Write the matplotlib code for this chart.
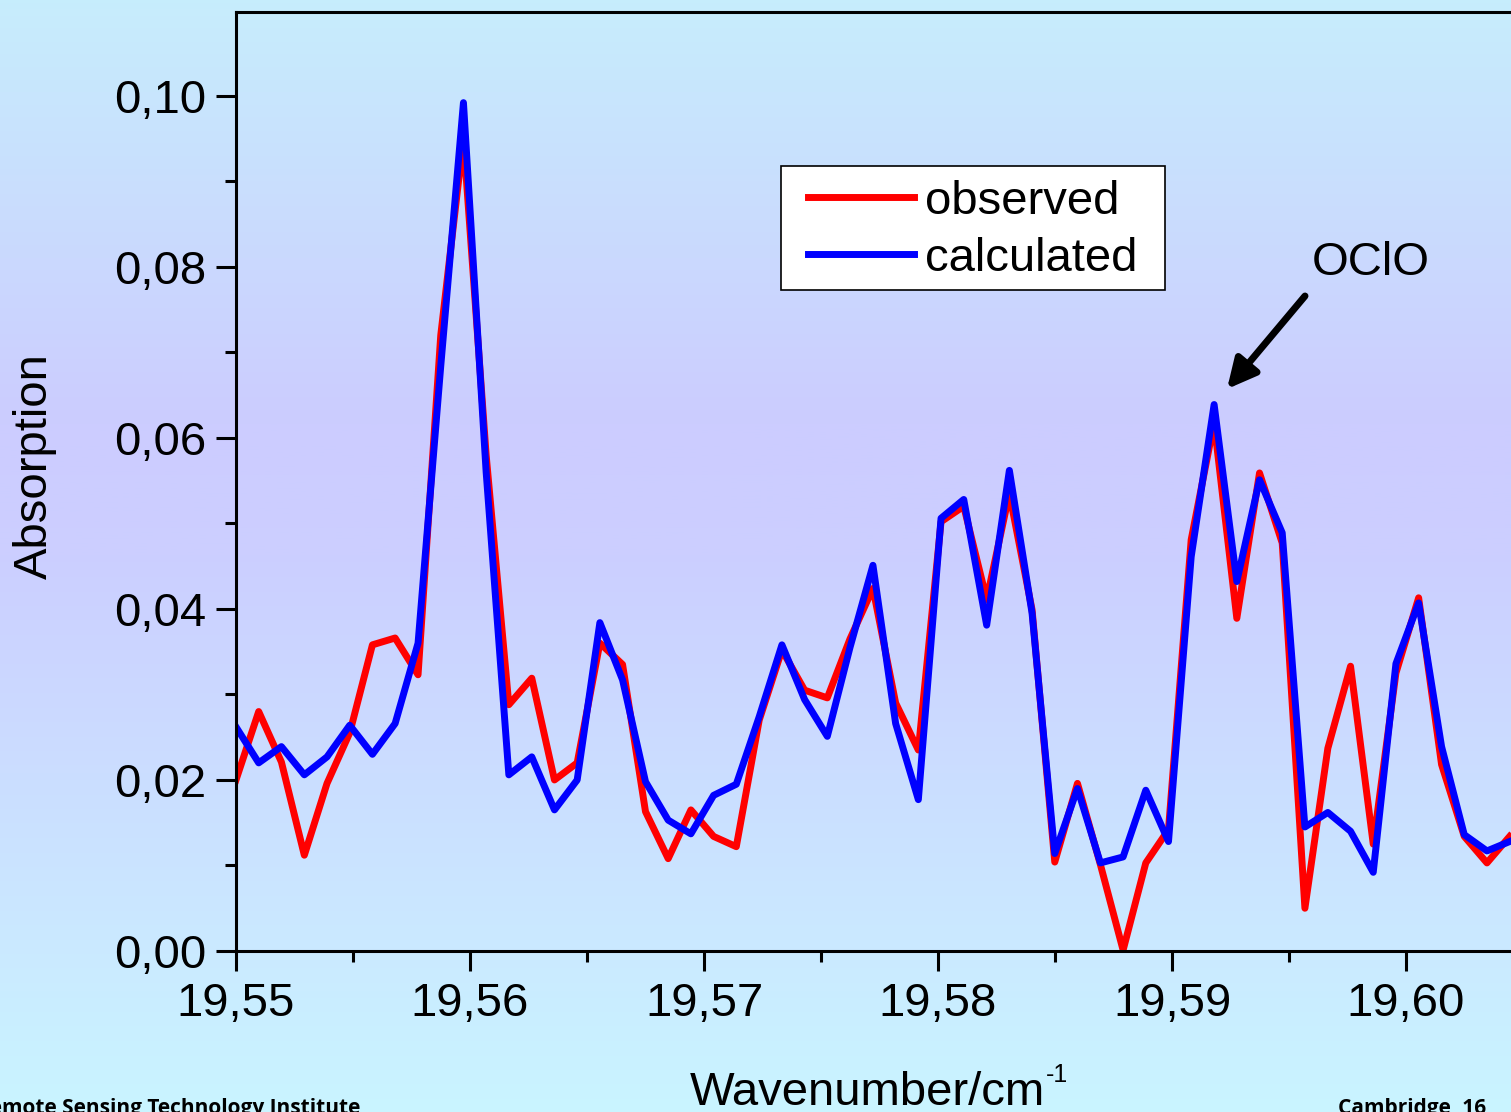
import numpy as np
import matplotlib
matplotlib.use("Agg")
import matplotlib.pyplot as plt
from matplotlib.ticker import MultipleLocator, FuncFormatter
from matplotlib.patches import Rectangle

plt.rcParams['font.family'] = ['Liberation Sans', 'DejaVu Sans']

# wavenumber grid (cm-1)
wavenumber = [19.55000, 19.55097, 19.55194, 19.55292, 19.55389, 19.55486, 19.55583, 19.55680,
              19.55778, 19.55875, 19.55972, 19.56069, 19.56166, 19.56264, 19.56361, 19.56458,
              19.56555, 19.56652, 19.56750, 19.56847, 19.56944, 19.57041, 19.57138, 19.57236,
              19.57333, 19.57430, 19.57527, 19.57624, 19.57722, 19.57819, 19.57916, 19.58013,
              19.58110, 19.58208, 19.58305, 19.58402, 19.58499, 19.58596, 19.58694, 19.58791,
              19.58888, 19.58985, 19.59082, 19.59180, 19.59277, 19.59374, 19.59471, 19.59568,
              19.59666, 19.59763, 19.59860, 19.59957, 19.60054, 19.60152, 19.60249, 19.60346,
              19.60443]

observed = [0.0200, 0.0280, 0.0221, 0.0112, 0.0196, 0.0255, 0.0358, 0.0366, 0.0323, 0.0720,
            0.0950, 0.0580, 0.0288, 0.0319, 0.0200, 0.0220, 0.0360, 0.0335, 0.0163, 0.0108,
            0.0165, 0.0134, 0.0122, 0.0270, 0.0352, 0.0305, 0.0296, 0.0365, 0.0424, 0.0290,
            0.0235, 0.0502, 0.0520, 0.0411, 0.0535, 0.0399, 0.0104, 0.0196, 0.0101, 0.0001,
            0.0103, 0.0142, 0.0481, 0.0618, 0.0389, 0.0559, 0.0477, 0.0050, 0.0237, 0.0333,
            0.0125, 0.0325, 0.0413, 0.0218, 0.0134, 0.0103, 0.0134]

calculated = [0.0262, 0.0220, 0.0239, 0.0206, 0.0227, 0.0264, 0.0230, 0.0266, 0.0360, 0.0684,
              0.0992, 0.0560, 0.0206, 0.0227, 0.0165, 0.0200, 0.0384, 0.0317, 0.0198, 0.0153,
              0.0137, 0.0182, 0.0195, 0.0274, 0.0358, 0.0294, 0.0251, 0.0355, 0.0451, 0.0266,
              0.0177, 0.0506, 0.0528, 0.0381, 0.0562, 0.0395, 0.0114, 0.0190, 0.0103, 0.0110,
              0.0188, 0.0128, 0.0461, 0.0639, 0.0432, 0.0551, 0.0489, 0.0145, 0.0162, 0.0140,
              0.0092, 0.0336, 0.0407, 0.0239, 0.0136, 0.0117, 0.0128]

W, H = 1511, 1112
FS = 34
fig = plt.figure(figsize=(W / 100, H / 100), dpi=100)

# slide background: cyan -> lavender -> cyan
bg = fig.add_axes([0, 0, 1, 1], zorder=-10)
t = np.linspace(0, 1, 400)
stops = [0.0, 0.38, 0.5, 1.0]
r = np.interp(t, stops, [0.78, 0.80, 0.80, 0.79])
g = np.interp(t, stops, [0.93, 0.80, 0.81, 0.96])
b = np.interp(t, stops, [0.99, 1.00, 1.00, 1.00])
grad = np.stack([r, g, b], axis=1)[:, None, :]
bg.imshow(grad, aspect='auto', extent=[0, 1, 0, 1])
bg.axis('off')

ax = fig.add_axes([236 / W, 1 - 951 / H, 1404 / W, 939 / H])
ax.patch.set_alpha(0)

ax.plot(wavenumber, observed, color='#ff0000', lw=5, solid_joinstyle='round', label='observed')
ax.plot(wavenumber, calculated, color='#0000ff', lw=5, solid_joinstyle='round', label='calculated')

ax.set_xlim(19.55, 19.61)
ax.set_ylim(0, 0.1098)

ax.xaxis.set_major_locator(MultipleLocator(0.01))
ax.xaxis.set_minor_locator(MultipleLocator(0.005))
ax.yaxis.set_major_locator(MultipleLocator(0.02))
ax.yaxis.set_minor_locator(MultipleLocator(0.01))
ax.xaxis.set_major_formatter(FuncFormatter(lambda v, p: f"{v:.2f}".replace('.', ',')))
ax.yaxis.set_major_formatter(FuncFormatter(lambda v, p: f"{v:.2f}".replace('.', ',')))

ax.tick_params(which='both', direction='out', width=2.2, top=False, right=False)
ax.tick_params(which='major', length=14.5, labelsize=FS)
ax.tick_params(axis='x', which='major', pad=8)
ax.tick_params(axis='y', which='major', pad=7)
ax.tick_params(which='minor', length=8)
for s in ax.spines.values():
    s.set_linewidth(2.2)
ax.spines['right'].set_visible(False)

# axis titles
fig.text(35 / W, 1 - 466 / H, "Absorption", rotation=90, fontsize=FS, ha='center', va='center')
fig.text(690 / W, 1 - 1105 / H, "Wavenumber/cm", fontsize=FS, ha='left', va='baseline')
fig.text(1046 / W, 1 - 1082 / H, "-1", fontsize=18, ha='left', va='baseline')

# legend with a hand-placed frame
frame = Rectangle((781 / W, 1 - 290 / H), 384 / W, 124 / H, transform=fig.transFigure,
                  facecolor='white', edgecolor='black', lw=1.2, zorder=4)
ax.add_patch(frame)
frame.set_clip_on(False)
leg = ax.legend(loc='upper left', bbox_to_anchor=(808 / W, 1 - 180 / H), bbox_transform=fig.transFigure,
                frameon=False, fontsize=FS, handlelength=2.25, handletextpad=0.22,
                borderpad=0, borderaxespad=0, labelspacing=0.27)
leg.set_zorder(5)

# OClO marker
fig.text(1371 / W, 1 - 263 / H, "OClO", fontsize=FS, ha='center', va='center')
ax.annotate('', xy=(1227 / W, 1 - 389 / H), xytext=(1305 / W, 1 - 296 / H),
            xycoords='figure fraction', textcoords='figure fraction',
            arrowprops=dict(arrowstyle='-|>', color='black', lw=5, mutation_scale=44,
                            shrinkA=0, shrinkB=0))

# footer, cut off by the slide edge
fig.text(360 / W, -0.002, "Remote Sensing Technology Institute", family='Open Sans',
         weight='bold', fontsize=15, ha='right', va='baseline')
fig.text(1338 / W, -0.002, "Cambridge, 16", family='Open Sans',
         weight='bold', fontsize=15, ha='left', va='baseline')

fig.savefig("out.png", dpi=100)
